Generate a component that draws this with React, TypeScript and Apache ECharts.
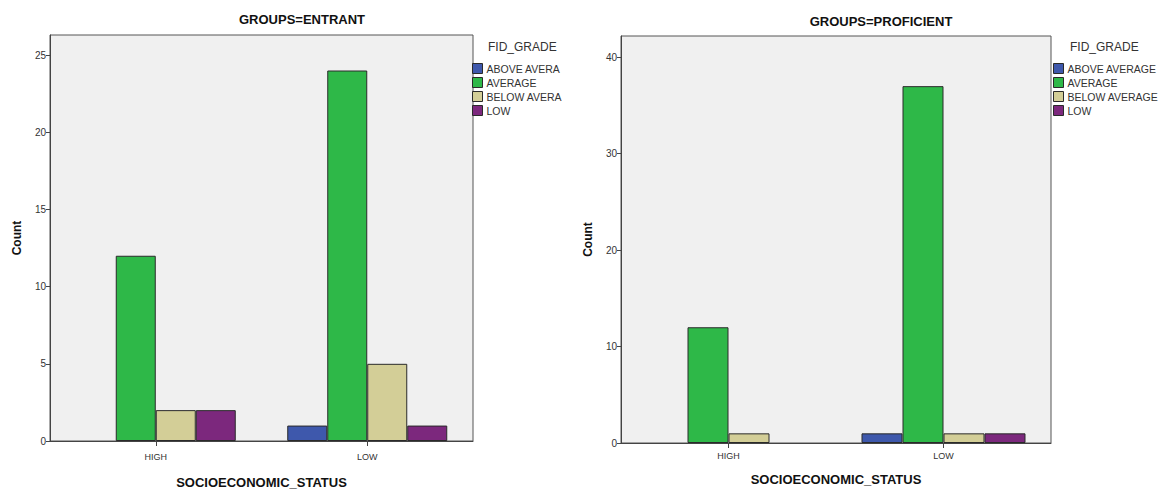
import React, { useEffect, useRef } from "react";
import * as echarts from "echarts";

const categories = ["HIGH", "LOW"];
const grades = ["ABOVE AVERAGE", "AVERAGE", "BELOW AVERAGE", "LOW"];
const gradeColors = ["#3E58AC", "#2EB848", "#D3CE97", "#7C287D"];

const entrantAbove = [null, 1];
const entrantAverage = [12, 24];
const entrantBelow = [2, 5];
const entrantLow = [2, 1];

const proficientAbove = [null, 1];
const proficientAverage = [12, 37];
const proficientBelow = [1, 1];
const proficientLow = [null, 1];

const entrantTicks = { min: 0, max: 26.3, interval: 5 };
const proficientTicks = { min: 0, max: 42.2, interval: 10 };

const FONT = "Liberation Sans, Arial, sans-serif";

export default function App() {
  const ref = useRef<HTMLDivElement>(null);

  useEffect(() => {
    if (!ref.current) return;
    const chart = echarts.init(ref.current, null, { renderer: "svg" });

    const entrantData = [entrantAbove, entrantAverage, entrantBelow, entrantLow];
    const proficientData = [proficientAbove, proficientAverage, proficientBelow, proficientLow];

    const mkSeries = (data: (number | null)[][], idx: number, width: number) =>
      data.map((d, i) => ({
        type: "bar",
        name: grades[i],
        xAxisIndex: idx,
        yAxisIndex: idx,
        data: d.map((v) => (v === null ? "-" : v)),
        barWidth: width,
        barGap: "0%",
        itemStyle: { color: gradeColors[i], borderColor: "#2a2a2a", borderWidth: 1 },
      }));

    const xAxisBase = (idx: number) => ({
      type: "category",
      gridIndex: idx,
      data: categories,
      name: "SOCIOECONOMIC_STATUS",
      nameLocation: "middle",
      nameGap: idx === 0 ? 35 : 30,
      nameTextStyle: { fontFamily: FONT, fontSize: 13, fontWeight: "bold", color: "#111" },
      axisLine: { show: true, lineStyle: { color: "#444", width: 1 } },
      axisTick: { show: true, alignWithLabel: true, length: 5, lineStyle: { color: "#444" } },
      axisLabel: { fontFamily: FONT, fontSize: 9, color: "#333", margin: idx === 0 ? 11 : 8 },
      splitLine: { show: false },
    });

    const yAxisBase = (idx: number, t: { min: number; max: number; interval: number }) => ({
      type: "value",
      gridIndex: idx,
      min: t.min,
      max: t.max,
      interval: t.interval,
      name: "Count",
      nameLocation: "middle",
      nameGap: 27,
      nameTextStyle: { fontFamily: FONT, fontSize: 12, fontWeight: "bold", color: "#111" },
      axisLine: { show: true, lineStyle: { color: "#444", width: 1 } },
      axisTick: { show: true, length: 4, lineStyle: { color: "#444" } },
      axisLabel: {
        fontFamily: FONT,
        fontSize: 10,
        color: "#333",
        margin: 4,
        showMaxLabel: false,
      },
      splitLine: { show: false },
    });

    const legendBase = (left: number, truncate: boolean) => ({
      orient: "vertical",
      left,
      top: 63,
      padding: 0,
      itemWidth: 10,
      itemHeight: 10,
      itemGap: 3,
      icon: "rect",
      selectedMode: false,
      data: grades,
      itemStyle: { borderColor: "#2a2a2a", borderWidth: 1 },
      textStyle: truncate
        ? { fontFamily: FONT, fontSize: 10.5, lineHeight: 10, color: "#333", padding: [0, 0, 0, -1], width: 79, overflow: "truncate", ellipsis: "" }
        : { fontFamily: FONT, fontSize: 10.5, lineHeight: 10, color: "#333", padding: [0, 0, 0, -1] },
    });

    const option = {
      animation: false,
      backgroundColor: "#ffffff",
      title: [
        {
          text: "GROUPS=ENTRANT",
          left: 297,
          top: 8,
          textAlign: "center",
          textStyle: { fontFamily: FONT, fontSize: 13, fontWeight: "bold", color: "#111" },
        },
        {
          text: "GROUPS=PROFICIENT",
          left: 876,
          top: 10,
          textAlign: "center",
          textStyle: { fontFamily: FONT, fontSize: 13, fontWeight: "bold", color: "#111" },
        },
        {
          text: "FID_GRADE",
          left: 483,
          top: 36,
          textStyle: { fontFamily: FONT, fontSize: 12, fontWeight: "normal", color: "#333" },
        },
        {
          text: "FID_GRADE",
          left: 1065,
          top: 36,
          textStyle: { fontFamily: FONT, fontSize: 12, fontWeight: "normal", color: "#333" },
        },
      ],
      legend: [legendBase(472, true), legendBase(1053, false)],
      grid: [
        {
          left: 50,
          top: 35,
          width: 423,
          height: 415,
          show: true,
          backgroundColor: "#F0F0F0",
          borderColor: "#555",
          borderWidth: 1,
        },
        {
          left: 621,
          top: 36,
          width: 430,
          height: 407,
          show: true,
          backgroundColor: "#F0F0F0",
          borderColor: "#555",
          borderWidth: 1,
        },
      ],
      xAxis: [xAxisBase(0), xAxisBase(1)],
      yAxis: [yAxisBase(0, entrantTicks), yAxisBase(1, proficientTicks)],
      series: [...mkSeries(entrantData, 0, 40), ...mkSeries(proficientData, 1, 41)],
    };

    chart.setOption(option as any);
    return () => chart.dispose();
  }, []);

  return (
    <div
      ref={ref}
      style={{ position: "absolute", left: 0, top: 0, width: 1163, height: 494, background: "#fff" }}
    />
  );
}
